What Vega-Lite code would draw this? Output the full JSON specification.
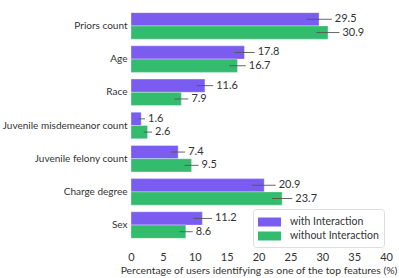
{
  "$schema": "https://vega.github.io/schema/vega-lite/v6.json",
  "width": 255,
  "height": 239,
  "autosize": {"type": "none"},
  "padding": {"left": 131, "top": 6, "right": 13, "bottom": 33},
  "background": "white",
  "config": {
    "view": {"stroke": null},
    "font": "Lato",
    "axis": {"domain": false, "ticks": false, "grid": false, "labelColor": "#333", "titleColor": "#333", "labelFont": "Lato", "titleFont": "Lato", "labelFontSize": 11, "titleFontSize": 10.4, "titleFontWeight": "normal", "labelFontWeight": "normal", "labelOverlap": false, "labelFlush": false}
  },
  "data": {
    "values": [
      {"feature": "Priors count", "group": "with Interaction", "value": 29.5, "lo": 27.5, "hi": 31.5},
      {"feature": "Priors count", "group": "without Interaction", "value": 30.9, "lo": 29.1, "hi": 32.7},
      {"feature": "Age", "group": "with Interaction", "value": 17.8, "lo": 16.2, "hi": 19.4},
      {"feature": "Age", "group": "without Interaction", "value": 16.7, "lo": 15.4, "hi": 18.0},
      {"feature": "Race", "group": "with Interaction", "value": 11.6, "lo": 10.3, "hi": 12.9},
      {"feature": "Race", "group": "without Interaction", "value": 7.9, "lo": 6.8, "hi": 9.0},
      {"feature": "Juvenile misdemeanor count", "group": "with Interaction", "value": 1.6, "lo": 1.2, "hi": 2.2},
      {"feature": "Juvenile misdemeanor count", "group": "without Interaction", "value": 2.6, "lo": 2.0, "hi": 3.3},
      {"feature": "Juvenile felony count", "group": "with Interaction", "value": 7.4, "lo": 6.3, "hi": 8.5},
      {"feature": "Juvenile felony count", "group": "without Interaction", "value": 9.5, "lo": 8.4, "hi": 10.6},
      {"feature": "Charge degree", "group": "with Interaction", "value": 20.9, "lo": 19.0, "hi": 22.7},
      {"feature": "Charge degree", "group": "without Interaction", "value": 23.7, "lo": 22.1, "hi": 25.3},
      {"feature": "Sex", "group": "with Interaction", "value": 11.2, "lo": 9.8, "hi": 12.7},
      {"feature": "Sex", "group": "without Interaction", "value": 8.6, "lo": 7.6, "hi": 9.7}
    ]
  },
  "encoding": {
    "y": {"field": "feature", "type": "nominal", "sort": null, "title": null,
          "scale": {"paddingInner": 0.2, "paddingOuter": 0.2},
          "axis": {"labelPadding": 4, "labelFontSize": 10}},
    "yOffset": {"field": "group", "type": "nominal", "sort": ["with Interaction", "without Interaction"], "scale": {"paddingInner": 0, "paddingOuter": 0}}
  },
  "layer": [
    {
      "mark": {"type": "bar", "stroke": "white", "strokeOpacity": 0.35, "strokeWidth": 1},
      "encoding": {
        "x": {"field": "value", "type": "quantitative", "scale": {"domain": [0, 40], "nice": false},
              "axis": {"values": [0, 5, 10, 15, 20, 25, 30, 35, 40], "labelPadding": 6, "titlePadding": 3},
              "title": "Percentage of users identifying as one of the top features (%)"},
        "color": {"field": "group", "type": "nominal",
                  "scale": {"domain": ["with Interaction", "without Interaction"], "range": ["#7a5cf0", "#33bb6e"]},
                  "legend": {"title": null, "orient": "none", "legendX": 122, "legendY": 203,
                             "strokeColor": "#dddddd", "fillColor": "white", "cornerRadius": 3, "padding": 5,
                             "symbolType": "M-1,-0.5625H1.875V0.5625H-1Z", "symbolSize": 256, "symbolStrokeWidth": 0, "symbolOpacity": 1,
                             "labelFontSize": 10.5, "labelColor": "#333", "labelFont": "Lato", "rowPadding": 0, "labelOffset": 16}}
      }
    },
    {
      "mark": {"type": "rule", "color": "#555", "strokeWidth": 1, "opacity": 0.9},
      "encoding": {
        "x": {"field": "lo", "type": "quantitative",
              "axis": {"values": [0, 5, 10, 15, 20, 25, 30, 35, 40], "labelPadding": 6, "titlePadding": 3},
              "title": "Percentage of users identifying as one of the top features (%)"},
        "x2": {"field": "hi"}
      }
    },
    {
      "mark": {"type": "text", "align": "left", "baseline": "middle", "dx": 3, "fontSize": 11, "color": "#333", "font": "Lato"},
      "encoding": {
        "x": {"field": "hi", "type": "quantitative",
              "axis": {"values": [0, 5, 10, 15, 20, 25, 30, 35, 40], "labelPadding": 6, "titlePadding": 3},
              "title": "Percentage of users identifying as one of the top features (%)"},
        "text": {"field": "value", "type": "quantitative", "format": ".1f"}
      }
    }
  ]
}
